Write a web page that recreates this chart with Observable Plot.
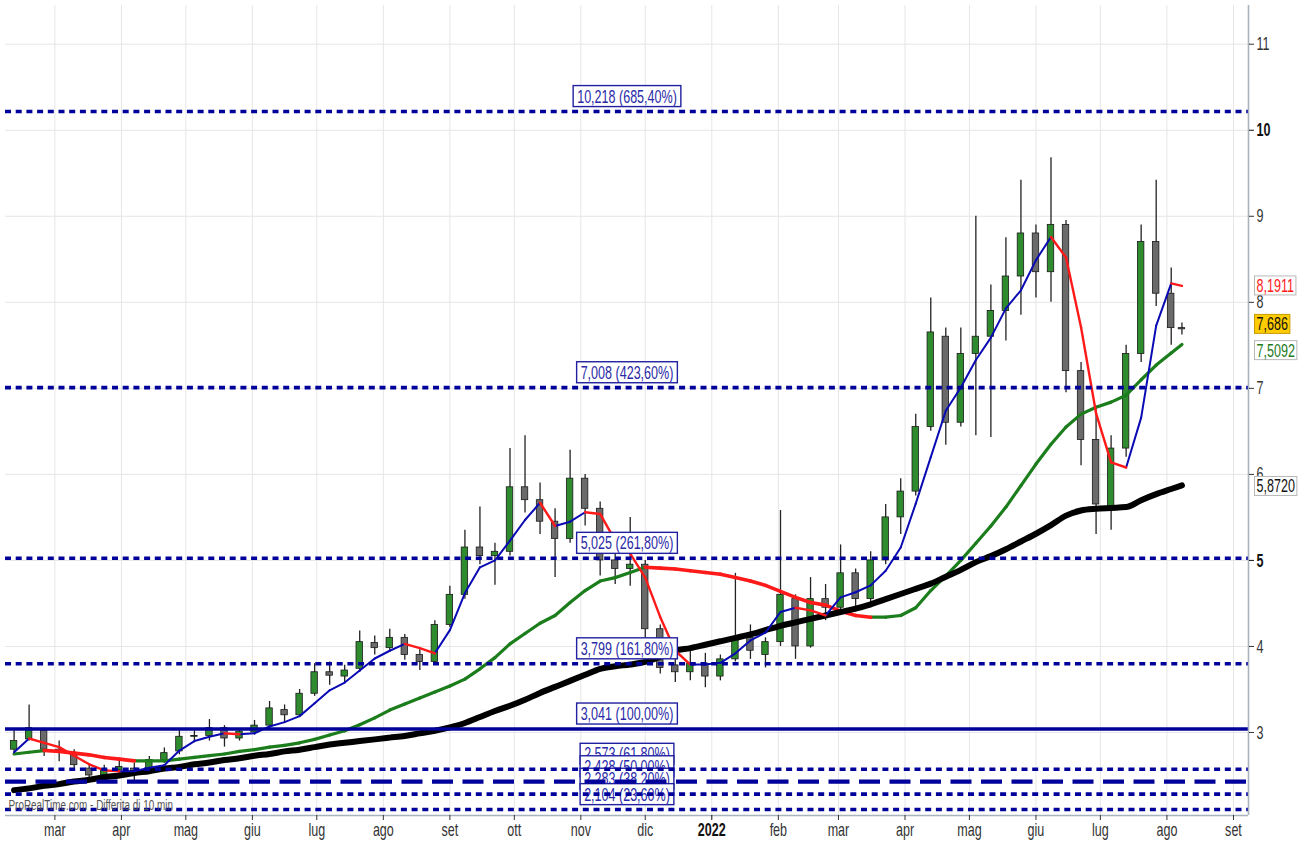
<!DOCTYPE html>
<html><head><meta charset="utf-8">
<script src="https://cdn.jsdelivr.net/npm/d3@7"></script>
<script src="https://cdn.jsdelivr.net/npm/@observablehq/plot@0.6"></script>
<style>
body{margin:0;background:#fff;}
#chart{width:1305px;height:841px;}
</style></head><body><div id="chart"></div>
<script>
// ---- data (weekly candles) ----
const weeks = ["2021-02-10","2021-02-17","2021-02-24","2021-03-03","2021-03-10","2021-03-17","2021-03-24","2021-03-31","2021-04-07","2021-04-14","2021-04-21","2021-04-28","2021-05-05","2021-05-12","2021-05-19","2021-05-26","2021-06-02","2021-06-09","2021-06-16","2021-06-23","2021-06-30",
"2021-07-07","2021-07-14","2021-07-21","2021-07-28","2021-08-04","2021-08-11","2021-08-18","2021-08-25","2021-09-01","2021-09-08","2021-09-15","2021-09-22","2021-09-29","2021-10-06","2021-10-13","2021-10-20","2021-10-27","2021-11-03","2021-11-10","2021-11-17","2021-11-24","2021-12-01","2021-12-08","2021-12-15",
"2021-12-22","2021-12-29","2022-01-05","2022-01-12","2022-01-19","2022-01-26","2022-02-02","2022-02-09","2022-02-16","2022-02-23","2022-03-02","2022-03-09","2022-03-16","2022-03-23","2022-03-30","2022-04-06","2022-04-13","2022-04-20","2022-04-27","2022-05-04",
"2022-05-11","2022-05-18","2022-05-25","2022-06-01","2022-06-08","2022-06-15","2022-06-22","2022-06-29","2022-07-06","2022-07-13","2022-07-20","2022-07-27","2022-08-03","2022-08-08"];
const open = [2.80,2.92,3.02,2.80,2.76,2.58,2.50,2.56,2.58,2.55,2.68,2.78,2.95,2.96,3.05,2.93,3.00,3.08,3.26,3.20,3.45,
3.70,3.65,3.74,4.04,3.98,4.10,3.90,3.82,4.25,4.60,5.15,5.05,5.10,5.85,5.70,5.45,5.25,5.95,5.60,5.00,4.90,4.95,4.20,3.78,
3.70,3.80,3.65,3.85,4.10,3.90,4.05,4.55,4.00,4.55,4.45,4.85,4.55,5.00,5.50,5.80,6.55,7.60,6.60,7.40,
7.60,7.90,8.30,8.80,8.35,8.90,7.20,6.40,5.60,6.30,7.40,8.70,8.10,7.70];
const high = [3.02,3.32,3.05,2.90,2.80,2.62,2.62,2.68,2.64,2.72,2.82,3.02,3.02,3.15,3.08,3.04,3.14,3.36,3.32,3.50,3.80,
3.82,3.78,4.18,4.12,4.20,4.14,3.98,4.30,4.70,5.35,5.62,5.20,6.30,6.45,5.90,5.60,6.28,6.00,5.68,5.10,5.50,5.00,4.25,3.90,
4.00,3.92,3.90,4.85,4.25,4.10,5.58,4.60,4.80,4.72,5.18,4.90,5.10,5.65,5.95,6.70,8.05,7.70,7.70,9.00,
8.20,8.75,9.42,8.90,9.68,8.95,7.30,6.75,6.45,7.50,8.90,9.42,8.40,7.76];
const low = [2.75,2.90,2.72,2.66,2.56,2.44,2.46,2.50,2.42,2.52,2.64,2.74,2.88,2.90,2.83,2.90,2.97,3.04,3.12,3.18,3.42,
3.55,3.58,3.70,3.90,3.95,3.84,3.72,3.78,4.22,4.55,4.95,4.71,5.05,5.55,5.30,4.80,5.20,5.40,4.82,4.72,4.70,4.10,3.68,3.58,
3.60,3.52,3.60,3.82,3.85,3.75,4.00,3.85,3.98,4.30,4.40,4.40,4.45,4.95,5.30,5.75,6.50,6.34,6.55,6.45,
6.43,7.55,7.85,8.05,8.00,6.95,6.10,5.30,5.35,6.20,7.30,7.95,7.50,7.62];
const close = [2.90,3.05,2.80,2.78,2.62,2.50,2.56,2.60,2.55,2.68,2.76,2.95,2.96,3.05,2.93,3.01,3.08,3.28,3.20,3.45,3.70,
3.66,3.72,4.05,3.98,4.10,3.90,3.82,4.25,4.60,5.15,5.05,5.10,5.85,5.70,5.45,5.25,5.95,5.60,5.00,4.90,4.95,4.20,3.75,3.70,
3.80,3.65,3.85,4.10,3.95,4.05,4.60,4.00,4.55,4.45,4.85,4.55,5.00,5.50,5.80,6.55,7.65,6.60,7.40,7.60,
7.90,8.30,8.80,8.35,8.90,7.20,6.40,5.65,6.30,7.40,8.70,8.10,7.70,7.686];
// moving averages
const maShort = [2.77,2.93,2.88,2.83,2.73,2.63,2.56,2.55,2.55,2.59,2.62,2.79,2.90,2.95,2.99,2.98,2.99,3.07,3.12,3.19,3.34,
3.49,3.58,3.72,3.86,3.95,4.03,3.98,3.92,4.19,4.62,4.92,5.00,5.23,5.47,5.67,5.40,5.45,5.56,5.54,5.23,5.08,4.80,4.34,3.95,
3.79,3.79,3.81,3.92,4.07,4.16,4.40,4.45,4.42,4.36,4.57,4.63,4.71,4.88,5.15,5.66,6.20,6.74,7.01,7.33,
7.59,7.93,8.14,8.49,8.76,8.52,7.71,6.71,6.14,6.08,6.66,7.73,8.22,8.1911];
const maMid = [2.75,2.77,2.79,2.78,2.76,2.74,2.71,2.69,2.67,2.67,2.67,2.69,2.71,2.73,2.75,2.78,2.80,2.83,2.85,2.88,2.92,
2.97,3.02,3.09,3.17,3.26,3.33,3.40,3.47,3.54,3.62,3.74,3.87,4.03,4.15,4.27,4.36,4.51,4.65,4.76,4.80,4.86,4.92,4.91,4.90,
4.88,4.86,4.84,4.80,4.76,4.71,4.64,4.57,4.51,4.48,4.41,4.36,4.34,4.34,4.36,4.45,4.65,4.82,5.00,5.20,
5.40,5.62,5.87,6.12,6.35,6.55,6.70,6.78,6.84,6.92,7.10,7.27,7.41,7.5092];
const maLong = [2.33,2.35,2.38,2.40,2.43,2.45,2.48,2.50,2.53,2.55,2.58,2.60,2.63,2.65,2.68,2.70,2.73,2.75,2.78,2.80,2.83,
2.86,2.88,2.90,2.92,2.94,2.96,2.99,3.02,3.06,3.11,3.18,3.25,3.31,3.38,3.46,3.53,3.60,3.67,3.74,3.77,3.79,3.82,3.88,3.95,
3.98,4.02,4.06,4.10,4.14,4.19,4.24,4.28,4.32,4.36,4.40,4.44,4.49,4.55,4.61,4.67,4.73,4.81,4.89,4.98,
5.05,5.13,5.22,5.31,5.41,5.52,5.58,5.60,5.61,5.62,5.70,5.77,5.83,5.872];
// Fibonacci levels
const fibValues = [10.218,7.008,5.025,3.799,3.041,2.573,2.428,2.283,2.104];
const fibLabels = ["10,218 (685,40%)","7,008 (423,60%)","5,025 (261,80%)","3,799 (161,80%)","3,041 (100,00%)","2,573 (61,80%)","2,428 (50,00%)","2,283 (38,20%)","2,104 (23,60%)"];
const fibStyles = ["dot","dot","dot","dot","solid","dot","dash","dot","dot"];
// axes
const yTicks = [3,4,5,6,7,8,9,10,11];
const yTicksBold = [5,10];
const monthTicks = ["2021-03-01","2021-04-01","2021-05-01","2021-06-01","2021-07-01","2021-08-01","2021-09-01","2021-10-01","2021-11-01","2021-12-01","2022-01-01","2022-02-01","2022-03-01","2022-04-01","2022-05-01","2022-06-01","2022-07-01","2022-08-01","2022-09-01"];
const monthLabels = ["mar","apr","mag","giu","lug","ago","set","ott","nov","dic","2022","feb","mar","apr","mag","giu","lug","ago","set"];
const xDomain = ["2021-02-06","2022-09-08"];
const yDomain = [2.035, 11.45];
// last-value badges
const badgeValues = [8.1911, 7.686, 7.5092, 5.8720];
const badgeTexts = ["8,1911","7,686","7,5092","5,8720"];
const watermark = "ProRealTime.com - Differita di 10 min";

// ---- build ----
const parse = d3.utcParse("%Y-%m-%d");
const dates = weeks.map(parse);
const DAY = 864e5;
const candles = dates.map((d,i)=>({date:d,o:open[i],h:high[i],l:low[i],c:close[i]}));
function segments(vals){
  const out=[];
  for(let i=1;i<vals.length;i++) out.push({x1:dates[i-1],y1:vals[i-1],x2:dates[i],y2:vals[i],up: vals[i]>=vals[i-1]});
  return out;
}
const segShort = segments(maShort), segMid = segments(maMid);
const longLine = dates.map((d,i)=>({date:d,v:maLong[i]}));
const fib = fibValues.map((v,i)=>({v,label:fibLabels[i],style:fibStyles[i]}));
const mDates = monthTicks.map(parse);
const labelMap = new Map(mDates.map((d,i)=>[+d, monthLabels[i]]));
const mNormal = mDates.filter(d=>labelMap.get(+d)!=="2022");
const mBold = mDates.filter(d=>labelMap.get(+d)==="2022");
const xd = xDomain.map(parse);

const FONT = "'Liberation Sans',Arial,sans-serif";
const FS = 19;
const NAVY = "#00009a";
const badgeStyle = [
  {fill:"#ff1a1a", box:"#ffffff", border:"#b8b8b8", dy:0},
  {fill:"#111111", box:"#ffcc00", border:"#c89b00", dy:-5},
  {fill:"#1d7a1d", box:"#ffffff", border:"#b8b8b8", dy:6},
  {fill:"#111111", box:"#ffffff", border:"#b8b8b8", dy:1}
];

const marks = [
  Plot.ruleX(mDates, {stroke:"#e6e6e6", strokeWidth:1}),
  Plot.ruleY(yTicks, {stroke:"#e6e6e6", strokeWidth:1}),
  // candles
  Plot.ruleX(candles, {x:"date", y1:"l", y2:"h", stroke:"#222", strokeWidth:1.3}),
  Plot.rect(candles, {x1:d=>new Date(+d.date-1.5*DAY), x2:d=>new Date(+d.date+1.5*DAY), y1:"o", y2:"c",
    fill:d=>d.c>=d.o?"#2e8b2e":"#6a6a6a", stroke:"#1a1a1a", strokeWidth:0.8}),
  // medium MA
  Plot.link(segMid.filter(d=>d.up), {x1:"x1",y1:"y1",x2:"x2",y2:"y2", stroke:"#1b7d1b", strokeWidth:3.2, strokeLinecap:"round"}),
  Plot.link(segMid.filter(d=>!d.up), {x1:"x1",y1:"y1",x2:"x2",y2:"y2", stroke:"#ff1a1a", strokeWidth:3.6, strokeLinecap:"round"}),
  // long MA
  Plot.line(longLine, {x:"date", y:"v", stroke:"#000", strokeWidth:6, curve:"monotone-x", strokeLinecap:"round"}),
  // short MA
  Plot.link(segShort.filter(d=>d.up), {x1:"x1",y1:"y1",x2:"x2",y2:"y2", stroke:"#0a0ab4", strokeWidth:2, strokeLinecap:"round"}),
  Plot.link(segShort.filter(d=>!d.up), {x1:"x1",y1:"y1",x2:"x2",y2:"y2", stroke:"#ff1a1a", strokeWidth:2.4, strokeLinecap:"round"}),
  // fib labels (boxes added after render)
  Plot.text(fib, {y:"v", text:"label", frameAnchor:"middle", dy:-15, fill:"#2a2aa8", fontSize:FS, ariaDescription:"fiblabel"}),
  // fib lines
  Plot.ruleY(fib.filter(d=>d.style==="dot"), {y:"v", stroke:NAVY, strokeWidth:3.6, strokeDasharray:"6,4.7"}),
  Plot.ruleY(fib.filter(d=>d.style==="dash"), {y:"v", stroke:NAVY, strokeWidth:4.2, strokeDasharray:"21,9.5"}),
  Plot.ruleY(fib.filter(d=>d.style==="solid"), {y:"v", stroke:NAVY, strokeWidth:3.4}),
  // axis lines
  Plot.ruleX([xd[1]], {stroke:"#a9b3bd", strokeWidth:1.6}),
  Plot.ruleY([yDomain[0]], {stroke:"#a9b3bd", strokeWidth:1.6}),
  Plot.axisY(yTicks.filter(t=>!yTicksBold.includes(t)), {anchor:"right", tickSize:5, tickPadding:3, fontSize:FS, color:"#333", tickFormat:d=>String(d)}),
  Plot.axisY(yTicksBold, {anchor:"right", tickSize:5, tickPadding:3, fontSize:FS, fontWeight:"bold", color:"#111", tickFormat:d=>String(d)}),
  Plot.axisX(mNormal, {anchor:"bottom", tickSize:5, tickPadding:2, fontSize:FS, color:"#333", tickFormat:d=>labelMap.get(+d)}),
  Plot.axisX(mBold, {anchor:"bottom", tickSize:5, tickPadding:2, fontSize:FS, fontWeight:"bold", color:"#111", tickFormat:d=>labelMap.get(+d)}),
  Plot.text([watermark], {text:d=>d, frameAnchor:"bottom-left", dx:3, dy:-6, textAnchor:"start", fill:"#555", fontSize:15})
];
badgeValues.forEach((v,i)=>{
  marks.push(Plot.text([v], {y:d=>d, text:()=>badgeTexts[i], frameAnchor:"right", dx:8, dy:badgeStyle[i].dy, textAnchor:"start",
    fill:badgeStyle[i].fill, fontSize:FS, ariaDescription:"badge"+i}));
});

const chart = Plot.plot({
  width:1305, height:841,
  marginLeft:5, marginRight:57, marginTop:5, marginBottom:26,
  style:{fontFamily:FONT, background:"#fff", overflow:"visible"},
  x:{type:"utc", domain:xd},
  y:{domain:yDomain},
  marks
});
document.getElementById("chart").appendChild(chart);

// narrow the text (the reference uses a tall condensed face)
chart.querySelectorAll("text").forEach(t=>{
  const L=t.getComputedTextLength();
  if(L>0){ t.setAttribute("textLength", (L*0.66).toFixed(2)); t.setAttribute("lengthAdjust","spacingAndGlyphs"); }
});
// boxes behind labels
function boxify(desc, fill, stroke, padX, padY, sw){
  chart.querySelectorAll('g[aria-description="'+desc+'"] text').forEach(t=>{
    const b=t.getBBox();
    const r=document.createElementNS("http://www.w3.org/2000/svg","rect");
    r.setAttribute("x", b.x-padX); r.setAttribute("y", b.y-padY);
    r.setAttribute("width", b.width+2*padX); r.setAttribute("height", b.height+2*padY);
    r.setAttribute("fill", fill); r.setAttribute("stroke", stroke); r.setAttribute("stroke-width", sw);
    if(t.getAttribute("transform")) r.setAttribute("transform", t.getAttribute("transform"));
    t.parentNode.insertBefore(r, t);
  });
}
boxify("fiblabel", "#fff", "#2020a0", 4, 0, 1.4);
badgeStyle.forEach((s,i)=>boxify("badge"+i, s.box, s.border, 2, -1, 1));
</script></body></html>
